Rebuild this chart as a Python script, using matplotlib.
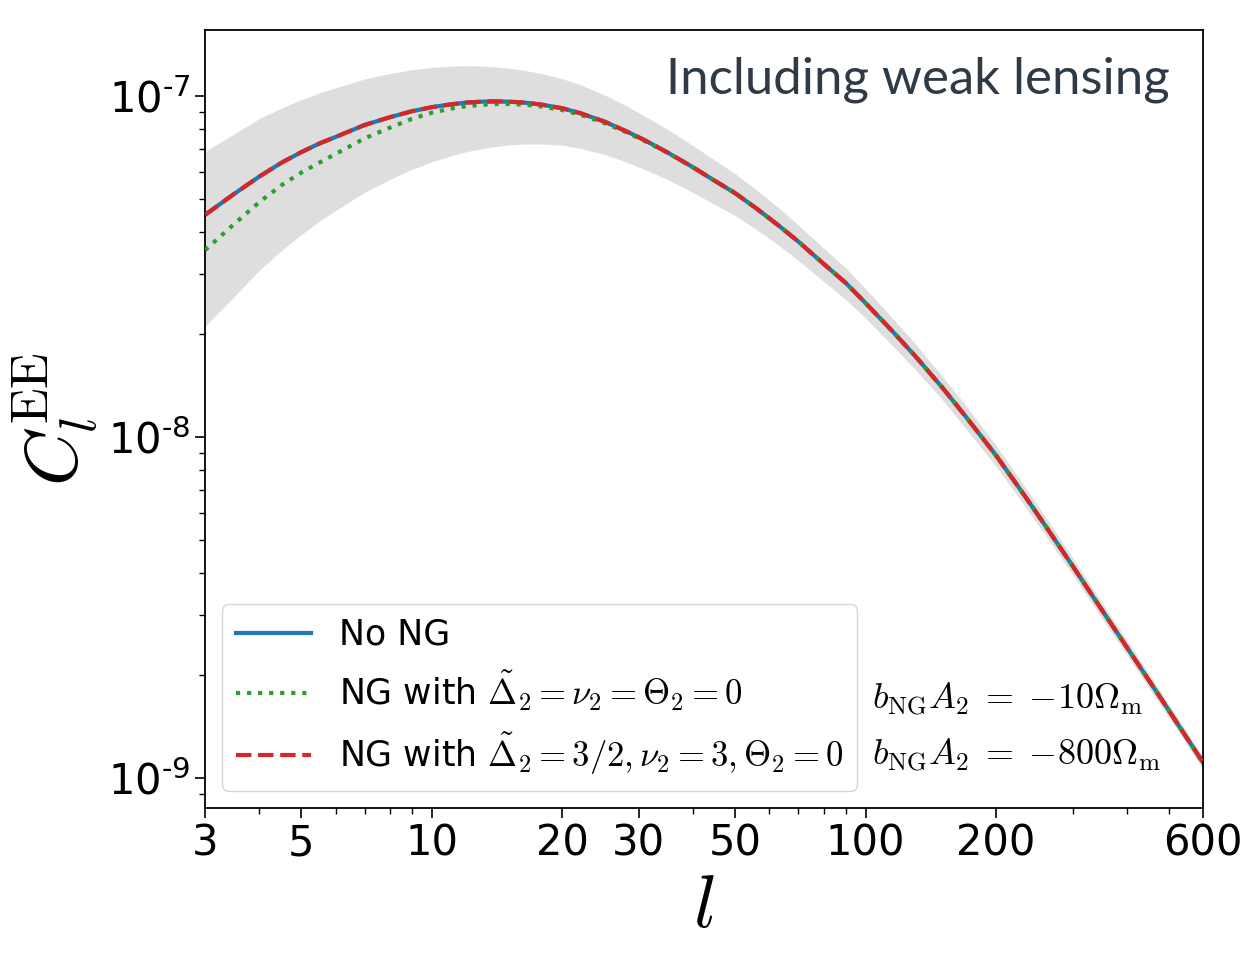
import matplotlib
matplotlib.use("Agg")
import matplotlib.pyplot as plt
from matplotlib.ticker import FixedLocator, FixedFormatter, NullFormatter, LogLocator, FuncFormatter
import numpy as np

plt.rcParams['font.family'] = ['DejaVu Sans']
plt.rcParams['mathtext.fontset'] = 'cm'
plt.rcParams['axes.unicode_minus'] = False

# ---- data ----
ell = [3, 3.5, 4, 4.5, 5, 5.5, 6, 7, 8, 9, 10, 11, 12, 13, 14, 15, 16, 17, 18, 20, 22, 25, 28, 31, 35,
       40, 45, 50, 56, 63, 70, 80, 90, 100, 115, 130, 150, 170, 200, 230, 260, 300, 350, 400, 470, 530, 600]

cl_no_ng = [4.48e-8, 5.16e-8, 5.80e-8, 6.37e-8, 6.84e-8, 7.25e-8, 7.58e-8, 8.22e-8, 8.66e-8, 9.02e-8,
            9.27e-8, 9.44e-8, 9.56e-8, 9.62e-8, 9.64e-8, 9.62e-8, 9.58e-8, 9.51e-8, 9.42e-8, 9.20e-8,
            8.90e-8, 8.41e-8, 7.89e-8, 7.41e-8, 6.82e-8, 6.18e-8, 5.63e-8, 5.19e-8, 4.68e-8, 4.17e-8,
            3.74e-8, 3.22e-8, 2.83e-8, 2.47e-8, 2.05e-8, 1.73e-8, 1.40e-8, 1.15e-8, 8.82e-9, 6.87e-9,
            5.48e-9, 4.19e-9, 3.12e-9, 2.42e-9, 1.78e-9, 1.41e-9, 1.11e-9]

cl_ng_zero = [3.53e-8, 4.21e-8, 4.88e-8, 5.47e-8, 5.96e-8, 6.37e-8, 6.76e-8, 7.51e-8, 8.07e-8, 8.57e-8,
              8.93e-8, 9.17e-8, 9.33e-8, 9.42e-8, 9.47e-8, 9.47e-8, 9.44e-8, 9.38e-8, 9.30e-8, 9.09e-8,
              8.81e-8, 8.33e-8, 7.84e-8, 7.37e-8, 6.81e-8, 6.17e-8, 5.63e-8, 5.19e-8, 4.68e-8, 4.17e-8,
              3.74e-8, 3.22e-8, 2.83e-8, 2.47e-8, 2.05e-8, 1.73e-8, 1.40e-8, 1.15e-8, 8.82e-9, 6.87e-9,
              5.48e-9, 4.19e-9, 3.12e-9, 2.42e-9, 1.78e-9, 1.41e-9, 1.11e-9]

cl_ng_32 = [4.48e-8, 5.16e-8, 5.80e-8, 6.37e-8, 6.84e-8, 7.25e-8, 7.58e-8, 8.22e-8, 8.66e-8, 9.02e-8,
            9.27e-8, 9.44e-8, 9.56e-8, 9.62e-8, 9.64e-8, 9.62e-8, 9.58e-8, 9.51e-8, 9.42e-8, 9.20e-8,
            8.90e-8, 8.41e-8, 7.89e-8, 7.41e-8, 6.82e-8, 6.18e-8, 5.63e-8, 5.19e-8, 4.68e-8, 4.17e-8,
            3.74e-8, 3.22e-8, 2.83e-8, 2.47e-8, 2.05e-8, 1.73e-8, 1.40e-8, 1.15e-8, 8.82e-9, 6.87e-9,
            5.48e-9, 4.19e-9, 3.12e-9, 2.42e-9, 1.78e-9, 1.41e-9, 1.11e-9]

band_upper = [6.87e-8, 7.74e-8, 8.58e-8, 9.21e-8, 9.75e-8, 1.020e-7, 1.056e-7, 1.122e-7, 1.163e-7, 1.194e-7,
              1.212e-7, 1.222e-7, 1.226e-7, 1.224e-7, 1.216e-7, 1.207e-7, 1.194e-7, 1.178e-7, 1.161e-7, 1.123e-7,
              1.078e-7, 1.007e-7, 9.37e-8, 8.72e-8, 7.97e-8, 7.15e-8, 6.47e-8, 5.92e-8, 5.30e-8, 4.70e-8,
              4.18e-8, 3.58e-8, 3.13e-8, 2.72e-8, 2.24e-8, 1.88e-8, 1.51e-8, 1.24e-8, 9.44e-9, 7.32e-9,
              5.82e-9, 4.43e-9, 3.28e-9, 2.54e-9, 1.86e-9, 1.47e-9, 1.15e-9]

band_lower = [2.11e-8, 2.58e-8, 3.08e-8, 3.52e-8, 3.92e-8, 4.29e-8, 4.61e-8, 5.22e-8, 5.69e-8, 6.09e-8,
              6.41e-8, 6.66e-8, 6.86e-8, 7.00e-8, 7.11e-8, 7.18e-8, 7.22e-8, 7.23e-8, 7.23e-8, 7.17e-8,
              7.02e-8, 6.74e-8, 6.41e-8, 6.08e-8, 5.68e-8, 5.21e-8, 4.80e-8, 4.46e-8, 4.06e-8, 3.65e-8,
              3.29e-8, 2.86e-8, 2.53e-8, 2.23e-8, 1.86e-8, 1.58e-8, 1.29e-8, 1.06e-8, 8.20e-9, 6.41e-9,
              5.14e-9, 3.95e-9, 2.95e-9, 2.30e-9, 1.69e-9, 1.35e-9, 1.06e-9]

x_major = [3, 5, 10, 20, 30, 50, 100, 200, 600]
x_minor = [4, 6, 7, 8, 9, 40, 60, 70, 80, 90, 300, 400, 500]

labels = ['No NG',
          r'NG with $\tilde{\Delta}_2=\nu_2=\Theta_2=0$',
          r'NG with $\tilde{\Delta}_2=3/2,\nu_2=3,\Theta_2=0$']
side_texts = [r'$b_{\rm NG}A_2\;=\;{-10}\Omega_{\rm m}$', r'$b_{\rm NG}A_2\;=\;{-800}\Omega_{\rm m}$']
corner_text = 'Including weak lensing'

# ---- figure ----
fig = plt.figure(figsize=(12.48, 9.58), dpi=100)
ax = fig.add_axes([0.1643, 0.1566, 0.7997, 0.8121])

ax.fill_between(ell, band_lower, band_upper, color='#dedede', linewidth=0, zorder=1)
ax.plot(ell, cl_no_ng, color='#1f77b4', lw=3.0, ls='-', label=labels[0], zorder=2)
ax.plot(ell, cl_ng_zero, color='#2ca02c', lw=3.0, ls=':', label=labels[1], zorder=3)
ax.plot(ell, cl_ng_32, color='#d62728', lw=3.0, ls='--', label=labels[2], zorder=4)

ax.set_xscale('log')
ax.set_yscale('log')
ax.set_xlim(3, 600)
ax.set_ylim(8.166e-10, 1.561e-7)

ax.xaxis.set_major_locator(FixedLocator(x_major))
ax.xaxis.set_major_formatter(FixedFormatter([str(v) for v in x_major]))
ax.xaxis.set_minor_locator(FixedLocator(x_minor))
ax.xaxis.set_minor_formatter(NullFormatter())
ax.yaxis.set_major_locator(LogLocator(base=10, numticks=10))
ax.yaxis.set_minor_locator(LogLocator(base=10, subs=np.arange(2, 10), numticks=20))
ax.yaxis.set_minor_formatter(NullFormatter())


def _ylab(v, pos):
    e = int(round(np.log10(v)))
    s = '\u2010%d' % abs(e) if e < 0 else '%d' % e
    return r'$\mathdefault{10^{%s}}$' % s


ax.yaxis.set_major_formatter(FuncFormatter(_ylab))

ax.tick_params(axis='both', which='major', labelsize=30, length=7, width=1.2, direction='out')
ax.tick_params(axis='both', which='minor', length=4, width=1.0, direction='out')
for sp in ax.spines.values():
    sp.set_linewidth(1.3)

ax.set_xlabel(r'$l$', fontsize=54, labelpad=4)
ax.set_ylabel(r'$C_l^{\rm EE}$', fontsize=54, labelpad=6)

leg = ax.legend(loc='lower left', fontsize=25, handlelength=2.15, frameon=True,
                borderaxespad=0.5)

for s, yy in zip(side_texts, [0.1272, 0.0545]):
    ax.text(0.668, yy, s, transform=ax.transAxes, fontsize=26, ha='left', va='baseline')

ax.text(0.967, 0.936, corner_text, transform=ax.transAxes, fontsize=36.6,
        ha='right', va='center', color='#2e3a46', family=['Lato', 'DejaVu Sans'])

fig.savefig('out.png', dpi=100)
